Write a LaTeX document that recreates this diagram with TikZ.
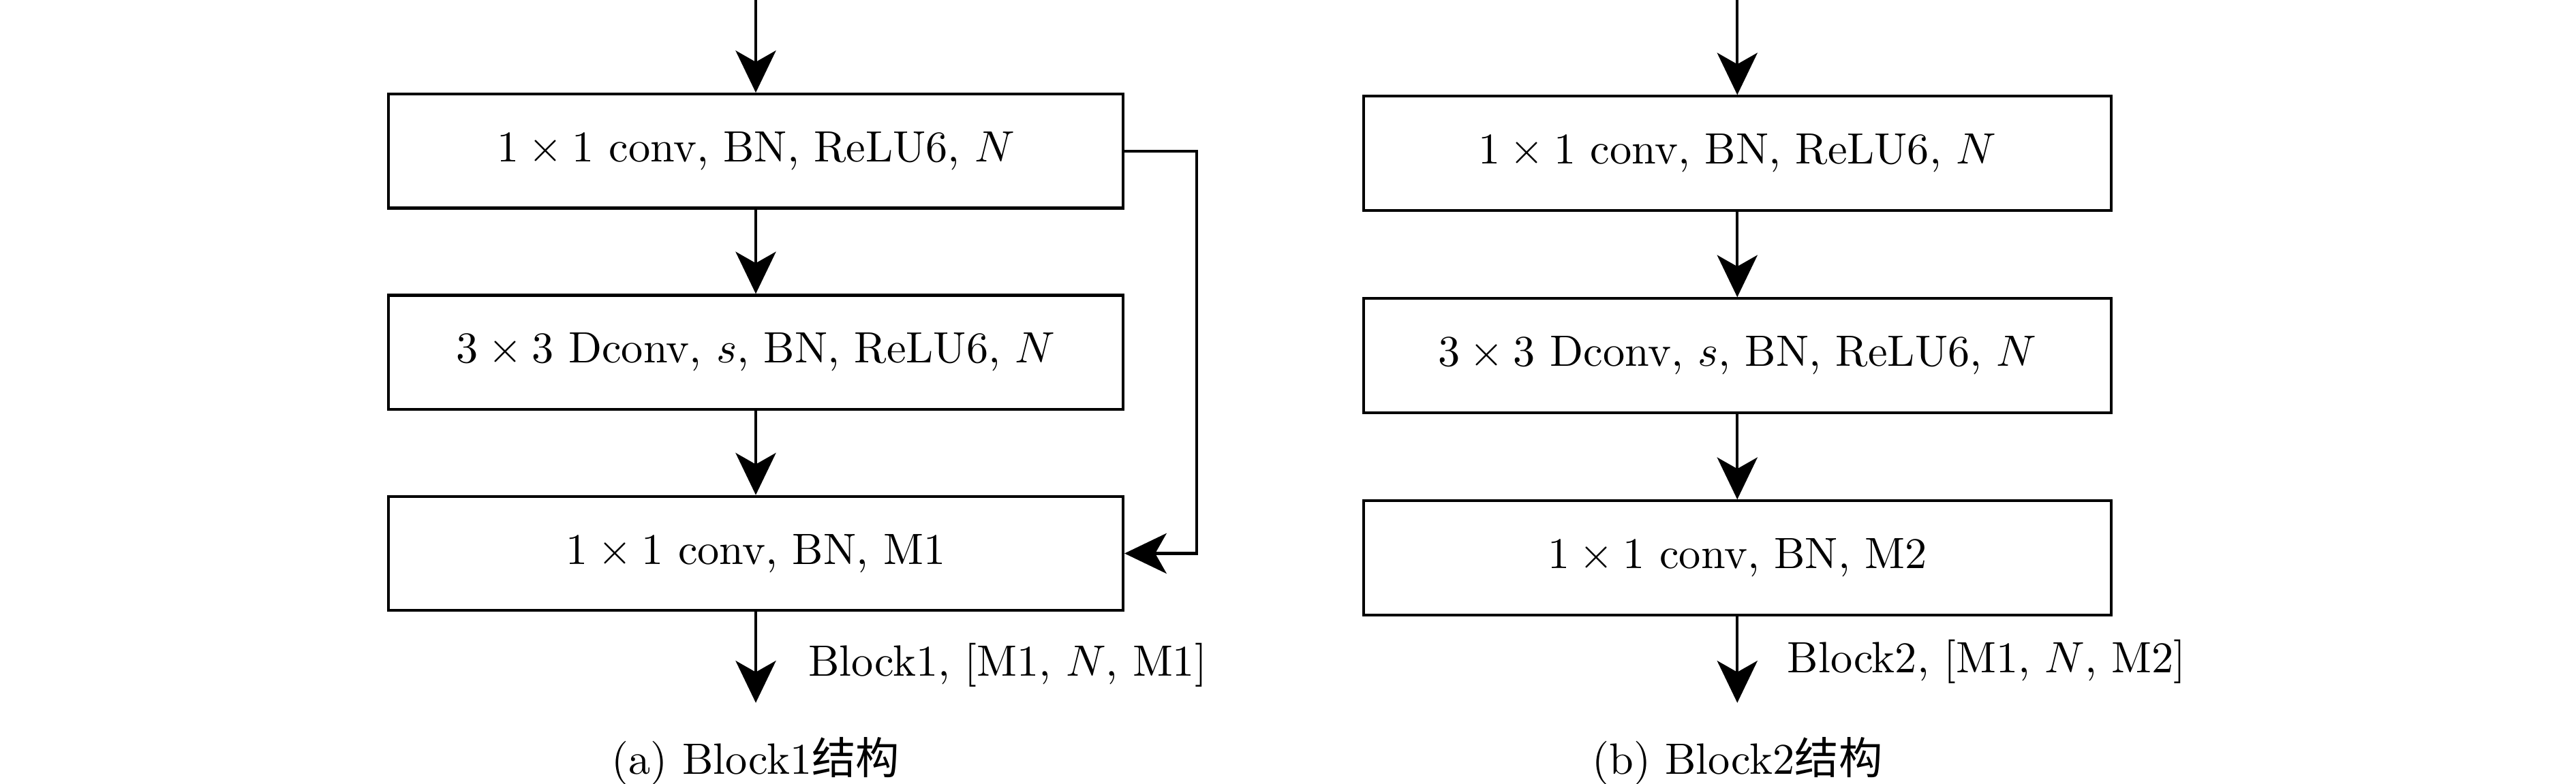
\documentclass[tikz,border=0pt]{standalone}
\usepackage{fontspec}
\newfontfamily\cjk{Noto Sans CJK SC}
\usetikzlibrary{positioning, arrows.meta}

\begin{document}
\begin{tikzpicture}[line width=0.65pt,
  block/.style={draw, minimum height=0.915cm, inner sep=0pt},
  flow/.style={-{Stealth[length=9.6pt, width=9.2pt, inset=2.6pt]}},
  node distance=0.676cm]
  \useasboundingbox (0,0) rectangle (20.655,-6.284);

  \node[block, minimum width=5.89cm] (a1) at (6.06,-1.212) {$1\times1$ conv, BN, ReLU6, $N$};
  \node[block, minimum width=5.89cm, below=of a1] (a2) {$3\times3$ Dconv, $s$, BN, ReLU6, $N$};
  \node[block, minimum width=5.89cm, below=of a2] (a3) {$1\times1$ conv, BN, M1};
  \coordinate (ain) at (6.06,0);
  \coordinate (aout) at (6.06,-5.638);
  \draw[flow] (ain) -- (a1);
  \draw[flow] (a1) -- (a2);
  \draw[flow] (a2) -- (a3);
  \draw[flow] (a3) -- (aout);
  \draw[flow] (a1.east) -- ++(0.58,0) |- (a3.east);
  \node[anchor=west, inner sep=0pt] (alab) at (6.47,-5.335) {Block1, [M1, $N$, M1]};
  \node (acap) at (6.06,-6.106) {(a) Block1{\cjk 结构}};

  \node[block, minimum width=5.994cm] (b1) at (13.93,-1.23) {$1\times1$ conv, BN, ReLU6, $N$};
  \node[block, minimum width=5.994cm, below=0.685cm of b1] (b2) {$3\times3$ Dconv, $s$, BN, ReLU6, $N$};
  \node[block, minimum width=5.994cm, below=0.685cm of b2] (b3) {$1\times1$ conv, BN, M2};
  \coordinate (bin) at (13.93,0);
  \coordinate (bout) at (13.93,-5.638);
  \draw[flow] (bin) -- (b1);
  \draw[flow] (b1) -- (b2);
  \draw[flow] (b2) -- (b3);
  \draw[flow] (b3) -- (bout);
  \node[anchor=west, inner sep=0pt] (blab) at (14.32,-5.309) {Block2, [M1, $N$, M2]};
  \node (bcap) at (13.93,-6.106) {(b) Block2{\cjk 结构}};
\end{tikzpicture}
\end{document}
